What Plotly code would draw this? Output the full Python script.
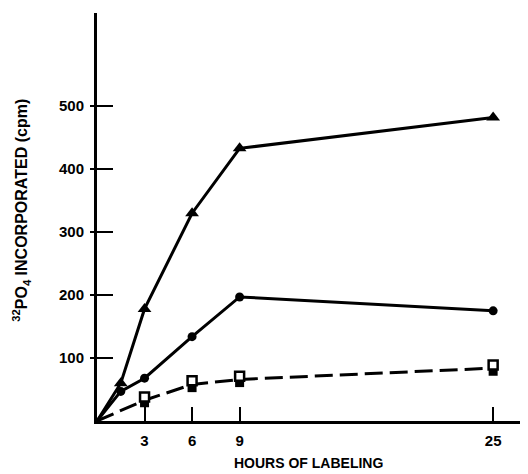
import plotly.graph_objects as go

hours = [0, 1.5, 3, 6, 9, 25]
triangle_cpm = [0, 60, 178, 330, 433, 482]
circle_cpm = [0, 47, 68, 134, 197, 175]
sq_hours = [0, 3, 6, 9, 25]
open_sq_cpm = [None, 38, 64, 71, 89]
filled_sq_cpm = [0, 29, 53, 61, 79]
dashed_cpm = [0, 33, 58, 66, 84]

xticks = [3, 6, 9, 25]
yticks = [100, 200, 300, 400, 500]

font_family = "Liberation Sans, Arial, sans-serif"
black = "#000000"

fig = go.Figure()
fig.add_trace(go.Scatter(x=hours, y=triangle_cpm, mode="lines",
                         line=dict(color=black, width=3), showlegend=False))
fig.add_trace(go.Scatter(x=hours[1:], y=triangle_cpm[1:], mode="markers",
                         marker=dict(symbol="triangle-up", size=12, color=black), showlegend=False))
fig.add_trace(go.Scatter(x=hours, y=circle_cpm, mode="lines",
                         line=dict(color=black, width=3), showlegend=False))
fig.add_trace(go.Scatter(x=hours[1:], y=circle_cpm[1:], mode="markers",
                         marker=dict(symbol="circle", size=9, color=black), showlegend=False))
fig.add_trace(go.Scatter(x=sq_hours, y=dashed_cpm, mode="lines",
                         line=dict(color=black, width=3, dash="18px,7px"), showlegend=False))
fig.add_trace(go.Scatter(x=sq_hours[1:], y=filled_sq_cpm[1:], mode="markers",
                         marker=dict(symbol="square", size=9, color=black), showlegend=False))
fig.add_trace(go.Scatter(x=sq_hours[1:], y=open_sq_cpm[1:], mode="markers",
                         marker=dict(symbol="square", size=9, color="white",
                                     line=dict(color=black, width=2.5)), showlegend=False))
fig.add_trace(go.Scatter(x=[None], y=[None], yaxis="y2", showlegend=False, hoverinfo="skip"))

fig.update_layout(
    width=520, height=466,
    margin=dict(l=89, r=0, t=5, b=53),
    paper_bgcolor="white", plot_bgcolor="white",
    font=dict(family=font_family, color=black, size=14, weight="bold"),
    xaxis=dict(range=[0, 27.2], tickvals=xticks, ticks="inside", ticklen=14, tickwidth=2,
               tickcolor=black, showline=True, linecolor=black, linewidth=3,
               showgrid=False, zeroline=False, automargin=False, ticklabelstandoff=4,
               tickfont=dict(size=15, weight="bold")),
    yaxis=dict(range=[0, 648], tickvals=yticks, ticks="inside", ticklen=16, tickwidth=2,
               tickcolor=black, showline=True, linecolor=black, linewidth=3,
               showgrid=False, zeroline=False, ticklabelstandoff=7, automargin=False,
               tickfont=dict(size=15, weight="bold")),
    yaxis2=dict(range=[0, 648], tickvals=yticks, ticks="outside", ticklen=6, tickwidth=2,
                tickcolor=black, showticklabels=False, overlaying="y", side="left",
                showgrid=False, zeroline=False, showline=False, automargin=False),
    annotations=[
        dict(text="HOURS OF LABELING", xref="paper", yref="paper", x=0.49, y=-0.103,
             xanchor="center", yanchor="middle", showarrow=False,
             font=dict(size=14, weight="bold")),
        dict(text="<sup>32</sup>PO<sub>4</sub> INCORPORATED (cpm)", xref="paper", yref="paper",
             x=-0.175, y=0.517, xanchor="center", yanchor="middle", textangle=-90,
             showarrow=False, font=dict(size=16, weight="bold")),
    ],
)

fig.write_html("out.html")
